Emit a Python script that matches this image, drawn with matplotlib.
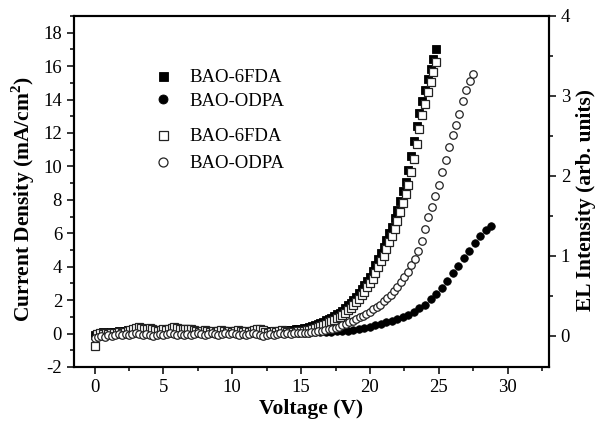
import numpy as np
import matplotlib.pyplot as plt
from matplotlib.ticker import MultipleLocator

plt.rcParams['font.family'] = 'Liberation Serif'
plt.rcParams['mathtext.fontset'] = 'custom'
plt.rcParams['mathtext.rm'] = 'Liberation Serif'
plt.rcParams['mathtext.bf'] = 'Liberation Serif:bold'
plt.rcParams['axes.unicode_minus'] = False

# current density (mA/cm2), BAO-6FDA, sweep step 0.2 V from 0 V
j_6fda = [-0.10, 0.00, 0.05, 0.08, 0.05, 0.06, 0.10, 0.08, 0.12, 0.15,
          0.12, 0.18, 0.20, 0.22, 0.30, 0.35, 0.38, 0.32, 0.28, 0.30,
          0.25, 0.22, 0.20, 0.18, 0.22, 0.25, 0.20, 0.28, 0.32, 0.35,
          0.30, 0.26, 0.24, 0.28, 0.25, 0.22, 0.18, 0.15, 0.12, 0.15,
          0.18, 0.14, 0.12, 0.15, 0.13, 0.16, 0.18, 0.15, 0.12, 0.14,
          0.12, 0.15, 0.18, 0.15, 0.12, 0.14, 0.12, 0.15, 0.18, 0.22,
          0.25, 0.20, 0.15, 0.12, 0.14, 0.16, 0.15, 0.17, 0.19, 0.20,
          0.21,
          0.22, 0.24, 0.26, 0.28, 0.30, 0.33, 0.36, 0.40, 0.45, 0.52,
          0.58, 0.65, 0.72, 0.80, 0.88, 0.96, 1.05, 1.15, 1.25, 1.38,
          1.52, 1.68, 1.85, 2.02, 2.20, 2.42, 2.65, 2.90, 3.15, 3.40,
          3.75, 4.10, 4.45, 4.80, 5.20, 5.60, 6.00, 6.40, 6.90, 7.40,
          7.95, 8.50, 9.05, 9.80, 10.6, 11.5, 12.4, 13.2, 13.9, 14.6,
          15.2, 15.8, 16.4, 17.0]

# current density, BAO-ODPA, step 0.4 V
j_odpa = [-0.12, -0.05, 0.00, 0.02, 0.00, 0.03, 0.05, 0.02, 0.04, 0.06,
          0.03, 0.05, 0.02, 0.04, 0.06, 0.03, 0.01, 0.03, 0.05, 0.04,
          0.02, 0.04, 0.06, 0.05, 0.03, 0.02, 0.04, 0.05, 0.03, 0.02,
          0.04, 0.03, 0.05, 0.04, 0.03, 0.04, 0.05, 0.05, 0.06, 0.06,
          0.07, 0.08, 0.09, 0.11, 0.13, 0.15, 0.18, 0.22, 0.28, 0.35,
          0.42, 0.50, 0.59, 0.68, 0.77, 0.88, 1.00, 1.12, 1.30, 1.50,
          1.72, 2.05, 2.38, 2.75, 3.17, 3.63, 4.07, 4.53, 4.96, 5.42,
          5.82, 6.20, 6.45]

# EL intensity (arb. units), BAO-6FDA, step 0.2 V
el_6fda = [-0.13, 0.02, 0.03, 0.02, 0.03, 0.02, 0.04, 0.03, 0.04, 0.05,
           0.04, 0.05, 0.06, 0.07, 0.09, 0.10, 0.11, 0.10, 0.08, 0.09,
           0.10, 0.08, 0.07, 0.06, 0.07, 0.08, 0.07, 0.09, 0.10, 0.11,
           0.10, 0.09, 0.08, 0.09, 0.08, 0.09, 0.07, 0.06, 0.05, 0.06,
           0.07, 0.06, 0.05, 0.06, 0.05, 0.06, 0.07, 0.06, 0.05, 0.06,
           0.05, 0.06, 0.07, 0.06, 0.05, 0.06, 0.05, 0.06, 0.07, 0.08,
           0.09, 0.07, 0.05, 0.04, 0.05, 0.06, 0.05, 0.06, 0.07, 0.06,
           0.05, 0.05,
           0.046, 0.050, 0.054, 0.059, 0.063, 0.069, 0.075, 0.084, 0.094, 0.109,
           0.121, 0.136, 0.150, 0.167, 0.184, 0.201, 0.219, 0.240, 0.261, 0.288,
           0.318, 0.351, 0.387, 0.422, 0.460, 0.506, 0.554, 0.606, 0.658, 0.711,
           0.784, 0.857, 0.930, 1.003, 1.087, 1.170, 1.254, 1.338, 1.442, 1.547,
           1.662, 1.777, 1.891, 2.048, 2.215, 2.404, 2.592, 2.759, 2.905, 3.051,
           3.177, 3.302, 3.428]

# EL intensity, BAO-ODPA, step 0.25 V
el_odpa = [-0.03, -0.01, 0.00, -0.01, 0.01, 0.00, 0.01, 0.02, 0.01, 0.02,
           0.01, 0.02, 0.03, 0.02, 0.01, 0.02, 0.01, 0.00, 0.01, 0.02,
           0.01, 0.02, 0.03, 0.02, 0.01, 0.02, 0.01, 0.02, 0.01, 0.02,
           0.03, 0.02, 0.01, 0.02, 0.03, 0.02, 0.01, 0.02, 0.03, 0.02,
           0.03, 0.02, 0.01, 0.02, 0.01, 0.02, 0.03, 0.02, 0.01, 0.00,
           0.01, 0.02, 0.01, 0.02, 0.03, 0.02, 0.03, 0.02, 0.03, 0.03,
           0.03, 0.035,
           0.04, 0.045, 0.05, 0.055, 0.06, 0.07, 0.08, 0.09, 0.10, 0.115,
           0.13, 0.15, 0.17, 0.19, 0.21, 0.23, 0.25, 0.27, 0.30, 0.33,
           0.36, 0.39, 0.43, 0.47, 0.51, 0.56, 0.61, 0.67, 0.73, 0.80,
           0.88, 0.96, 1.06, 1.19, 1.34, 1.48, 1.61, 1.75, 1.89, 2.05,
           2.20, 2.36, 2.51, 2.64, 2.78, 2.94, 3.08, 3.19, 3.28]

v_j6 = np.arange(len(j_6fda)) * 0.2
v_jo = np.arange(len(j_odpa)) * 0.4
v_e6 = np.arange(len(el_6fda)) * 0.2
v_eo = np.arange(len(el_odpa)) * 0.25

fig = plt.figure(figsize=(5.96, 4.26), dpi=100)
ax = fig.add_axes([0.124, 0.1385, 0.797, 0.824])
ax2 = ax.twinx()

ms = 5.4
h1, = ax.plot(v_j6, j_6fda, 's', color='black', ms=ms, mew=0.6)
h2, = ax.plot(v_jo, j_odpa, 'o', color='black', ms=ms, mew=0.6)
h3, = ax2.plot(v_e6, el_6fda, 's', mfc='white', mec='#222222', ms=ms, mew=0.9)
h4, = ax2.plot(v_eo, el_odpa, 'o', mfc='white', mec='#222222', ms=ms, mew=0.9)

ax.set_xlim(-1.5, 33)
ax.set_ylim(-2, 19)
ax2.set_ylim(-0.39, 4)

ax.xaxis.set_major_locator(MultipleLocator(5))
ax.xaxis.set_minor_locator(MultipleLocator(2.5))
ax.yaxis.set_major_locator(MultipleLocator(2))
ax.yaxis.set_minor_locator(MultipleLocator(1))
ax2.yaxis.set_major_locator(MultipleLocator(1))
ax2.yaxis.set_minor_locator(MultipleLocator(0.5))

for a in (ax, ax2):
    a.tick_params(which='major', direction='out', length=5, width=1.1, labelsize=13.5)
    a.tick_params(which='minor', direction='out', length=3, width=1.1)
    for s in a.spines.values():
        s.set_linewidth(1.5)

ax.set_xlabel('Voltage (V)', fontsize=15.5, fontweight='bold')
ax.set_ylabel('Current Density (mA/cm$^\\mathbf{2}$)', fontsize=15.5, fontweight='bold')
ax2.set_ylabel('EL Intensity (arb. units)', fontsize=15.5, fontweight='bold')
ax.xaxis.set_label_coords(0.5, -0.09)
ax.yaxis.set_label_coords(-0.077, 0.477)
ax2.yaxis.set_label_coords(1.057, 0.477)

leg_kw = dict(loc='upper left', frameon=False, fontsize=13.5, markerscale=1.2,
              handlelength=1.0, handletextpad=0.94,
              borderpad=0, borderaxespad=0)
leg1 = ax2.legend([h1, h2], ['BAO-6FDA', 'BAO-ODPA'], labelspacing=0.36,
                  bbox_to_anchor=(0.1676, 0.849), **leg_kw)
ax2.add_artist(leg1)
ax2.legend([h3, h4], ['BAO-6FDA', 'BAO-ODPA'], labelspacing=0.52,
           bbox_to_anchor=(0.1676, 0.680), **leg_kw)

fig.savefig('out.png', dpi=100)
